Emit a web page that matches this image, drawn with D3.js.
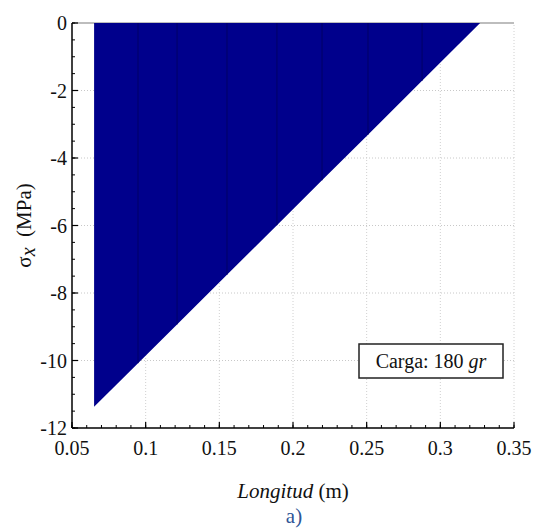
<!DOCTYPE html>
<html>
<head>
<meta charset="utf-8">
<script src="https://cdn.jsdelivr.net/npm/d3@7"></script>
<style>
  html, body { margin: 0; padding: 0; background: #fff; }
  svg { display: block; }
</style>
</head>
<body>
<svg id="chart" width="541" height="529"></svg>
<script>
// Longitudinal stress distribution along the beam (sampled stations)
const longitud = [0.065, 0.0948, 0.1213, 0.1552, 0.1891, 0.2197, 0.2509, 0.2876, 0.327];
const sigmaX   = [-11.37, -10.08, -8.93, -7.46, -5.99, -4.66, -3.31, -1.71, 0];

const xTicks = [0.05, 0.1, 0.15, 0.2, 0.25, 0.3, 0.35];
const xTickLabels = ["0.05", "0.1", "0.15", "0.2", "0.25", "0.3", "0.35"];
const yTicks = [0, -2, -4, -6, -8, -10, -12];
const yTickLabels = ["0", "-2", "-4", "-6", "-8", "-10", "-12"];
const cargaText = "Carga: 180 ";
const cargaUnit = "gr";

const FONT = "Liberation Serif, Times New Roman, serif";
const svg = d3.select("#chart");
const margin = { left: 72, right: 27, top: 23, bottom: 101 };
const W = 541, H = 529;
const x = d3.scaleLinear().domain([0.05, 0.35]).range([margin.left, W - margin.right]);
const y = d3.scaleLinear().domain([-12, 0]).range([H - margin.bottom, margin.top]);

// Grid
const grid = svg.append("g");
grid.selectAll("line.gy").data(yTicks.filter(v => v !== 0 && v !== -12)).join("line")
  .attr("x1", x(0.05)).attr("x2", x(0.35))
  .attr("y1", d => y(d)).attr("y2", d => y(d))
  .attr("stroke", "#c8c8c8").attr("stroke-width", 1).attr("stroke-dasharray", "1,2");
grid.selectAll("line.gx").data(xTicks.filter(v => v !== 0.05)).join("line")
  .attr("x1", d => x(d)).attr("x2", d => x(d))
  .attr("y1", y(-12)).attr("y2", y(0))
  .attr("stroke", "#d0d0d0").attr("stroke-width", 1).attr("stroke-dasharray", "1,2");
// Top frame line
svg.append("line")
  .attr("x1", x(0.05)).attr("x2", x(0.35)).attr("y1", y(0)).attr("y2", y(0))
  .attr("stroke", "#bdbdbd").attr("stroke-width", 2);

// Filled stress area
const pts = longitud.map((v, i) => [v, sigmaX[i]]);
const area = d3.area().x(d => x(d[0])).y0(y(0)).y1(d => y(d[1]));
svg.append("path").datum(pts)
  .attr("d", area)
  .attr("fill", "#00008c");
// Patch seams between sampled stations
svg.selectAll("line.seam").data(pts.slice(1, -1)).join("line")
  .attr("x1", d => x(d[0])).attr("x2", d => x(d[0]))
  .attr("y1", y(0)).attr("y2", d => y(d[1]))
  .attr("stroke", "#000066").attr("stroke-width", 1);

// Axes
const axisG = svg.append("g");
axisG.append("line").attr("x1", x(0.05)).attr("x2", x(0.05)).attr("y1", y(0)).attr("y2", y(-12))
  .attr("stroke", "#000").attr("stroke-width", 1.5);
axisG.append("line").attr("x1", x(0.05)).attr("x2", x(0.35)).attr("y1", y(-12)).attr("y2", y(-12))
  .attr("stroke", "#000").attr("stroke-width", 1.5);

// Minor ticks
const yMinor = d3.range(0, 25).map(i => -12 + i * 0.5);
axisG.selectAll("line.ymin").data(yMinor).join("line")
  .attr("x1", x(0.05)).attr("x2", x(0.05) + 3)
  .attr("y1", d => y(d)).attr("y2", d => y(d))
  .attr("stroke", "#000").attr("stroke-width", 1);
const xMinor = d3.range(0, 31).map(i => 0.05 + i * 0.01);
axisG.selectAll("line.xmin").data(xMinor).join("line")
  .attr("x1", d => x(d)).attr("x2", d => x(d))
  .attr("y1", y(-12)).attr("y2", y(-12) - 3)
  .attr("stroke", "#000").attr("stroke-width", 1);
// Major ticks
axisG.selectAll("line.ymaj").data(yTicks).join("line")
  .attr("x1", x(0.05)).attr("x2", x(0.05) + 6)
  .attr("y1", d => y(d)).attr("y2", d => y(d))
  .attr("stroke", "#000").attr("stroke-width", 1.2);
axisG.selectAll("line.xmaj").data(xTicks).join("line")
  .attr("x1", d => x(d)).attr("x2", d => x(d))
  .attr("y1", y(-12)).attr("y2", y(-12) - 6)
  .attr("stroke", "#000").attr("stroke-width", 1.2);

// Tick labels
axisG.selectAll("text.yl").data(yTicks).join("text")
  .style("font-family", FONT)
  .attr("x", x(0.05) - 5).attr("y", d => y(d) + 7)
  .attr("text-anchor", "end").attr("font-size", 20).attr("fill", "#111")
  .text((d, i) => yTickLabels[i]);
axisG.selectAll("text.xl").data(xTicks).join("text")
  .style("font-family", FONT)
  .attr("x", d => x(d)).attr("y", y(-12) + 27)
  .attr("text-anchor", "middle").attr("font-size", 20).attr("fill", "#111")
  .text((d, i) => xTickLabels[i]);

// Axis titles
const yt = svg.append("text")
  .style("font-family", FONT)
  .attr("transform", `translate(31, ${(y(0) + y(-12)) / 2}) rotate(-90)`)
  .attr("text-anchor", "middle").attr("font-size", 21).attr("fill", "#111");
yt.append("tspan").text("σ");
yt.append("tspan").attr("font-style", "italic").attr("dy", 4).attr("font-size", 20).text("x");
yt.append("tspan").attr("dy", -4).text("\u00a0 (MPa)");

const xt = svg.append("text")
  .style("font-family", FONT)
  .attr("x", (x(0.05) + x(0.35)) / 2).attr("y", 498)
  .attr("text-anchor", "middle").attr("font-size", 21).attr("fill", "#111");
xt.append("tspan").attr("font-style", "italic").text("Longitud");
xt.append("tspan").text(" (m)");

svg.append("text")
  .style("font-family", FONT)
  .attr("x", 294).attr("y", 523)
  .attr("text-anchor", "middle").attr("font-size", 21).attr("fill", "#2f5597")
  .text("a)");

// Load annotation box
const bx = 359, by = 344, bw = 144, bh = 34;
svg.append("rect").attr("x", bx).attr("y", by).attr("width", bw).attr("height", bh)
  .attr("fill", "#fff").attr("stroke", "#222").attr("stroke-width", 1.5);
const lt = svg.append("text")
  .style("font-family", FONT)
  .attr("x", bx + bw / 2).attr("y", by + 24)
  .attr("text-anchor", "middle").attr("font-size", 20).attr("fill", "#111");
lt.append("tspan").text(cargaText);
lt.append("tspan").attr("font-style", "italic").text(cargaUnit);
</script>
</body>
</html>
